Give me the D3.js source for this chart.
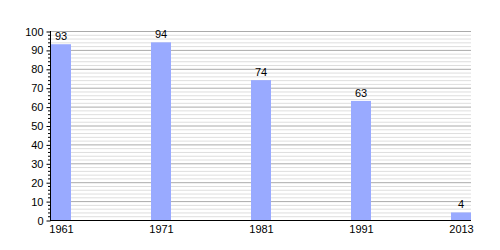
<!DOCTYPE html>
<html>
<head>
<meta charset="utf-8">
<script src="https://cdn.jsdelivr.net/npm/d3@7"></script>
<style>
body { margin: 0; background: #fff; }
svg text { font-family: "Liberation Sans", Arial, sans-serif; fill: #000; }
</style>
</head>
<body>
<svg id="chart" width="500" height="250"></svg>
<script>
var years = ["1961", "1971", "1981", "1991", "2013"];
var values = [93, 94, 74, 63, 4];
var yTicks = [0, 10, 20, 30, 40, 50, 60, 70, 80, 90, 100];

var svg = d3.select("#chart");

var x = d3.scalePoint().domain(years).range([61, 461]);
var y = d3.scaleLinear().domain([0, 100]).range([220, 31]);
var left = 50, right = 471, barW = 20;

// minor grid every 2
var minor = d3.range(2, 101, 2).filter(function (v) { return v % 10 != 0; });
svg.append("g").selectAll("line").data(minor).enter().append("line")
    .attr("x1", left).attr("x2", right)
    .attr("y1", function (d) { return y(d) + 0.5; })
    .attr("y2", function (d) { return y(d) + 0.5; })
    .attr("stroke", "#dedede").attr("stroke-width", 1);

svg.append("g").selectAll("line").data(yTicks.slice(1)).enter().append("line")
    .attr("x1", left).attr("x2", right)
    .attr("y1", function (d) { return y(d) + 0.5; })
    .attr("y2", function (d) { return y(d) + 0.5; })
    .attr("stroke", "#aaaaaa").attr("stroke-width", 1);

// bars
svg.append("g").selectAll("rect").data(values).enter().append("rect")
    .attr("x", function (d, i) { return x(years[i]) - barW / 2; })
    .attr("y", function (d) { return y(d); })
    .attr("width", barW)
    .attr("height", function (d) { return y(0) - y(d); })
    .attr("fill", "#99aaff");

svg.append("g").selectAll("text").data(values).enter().append("text")
    .attr("x", function (d, i) { return x(years[i]); })
    .attr("y", function (d) { return y(d) - 4; })
    .attr("text-anchor", "middle")
    .attr("font-size", 11)
    .text(function (d) { return d; });

// y axis
var yAxis = d3.axisLeft(y).tickValues(yTicks).tickSize(4).tickPadding(3);
var gy = svg.append("g").attr("transform", "translate(" + (left + 0.5) + ",0.5)").call(yAxis);
gy.select(".domain").remove();
gy.selectAll("text").attr("font-size", 11).style("font-family", '"Liberation Sans", Arial, sans-serif');
gy.selectAll("line").attr("stroke", "#000");

svg.append("g").selectAll("line").data(d3.range(2, 100, 2).filter(function (v) { return v % 10 != 0; }))
    .enter().append("line")
    .attr("x1", left - 2).attr("x2", left)
    .attr("y1", function (d) { return y(d) + 0.5; })
    .attr("y2", function (d) { return y(d) + 0.5; })
    .attr("stroke", "#000");

svg.append("line")
    .attr("x1", left + 0.5).attr("x2", left + 0.5)
    .attr("y1", y(100)).attr("y2", y(0) + 1)
    .attr("stroke", "#000");

// x axis
svg.append("line")
    .attr("x1", left).attr("x2", right)
    .attr("y1", y(0) + 0.5).attr("y2", y(0) + 0.5)
    .attr("stroke", "#000");

var xAxis = d3.axisBottom(x).tickSize(0).tickPadding(4);
var gx = svg.append("g").attr("transform", "translate(0," + (y(0) + 1) + ")").call(xAxis);
gx.select(".domain").remove();
gx.selectAll("text").attr("font-size", 11).style("font-family", '"Liberation Sans", Arial, sans-serif');
</script>
</body>
</html>
